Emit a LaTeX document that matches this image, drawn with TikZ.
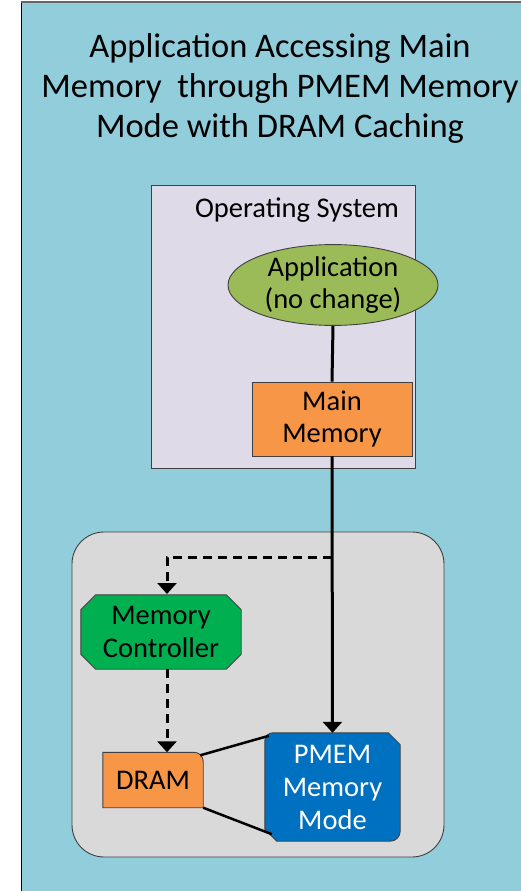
\documentclass[tikz,border=0pt]{standalone}
\usepackage{fontspec}
\setmainfont{Carlito}
\usetikzlibrary{arrows.meta,shapes.geometric}
\definecolor{bgblue}{HTML}{92CDDC}
\definecolor{oslav}{HTML}{DFDAE8}
\definecolor{hwgray}{HTML}{D9D9D9}
\definecolor{appgreen}{HTML}{9BBB59}
\definecolor{memorange}{HTML}{F79646}
\definecolor{mcgreen}{HTML}{00B050}
\definecolor{pmblue}{HTML}{0070C0}
\definecolor{edgegray}{HTML}{404040}
\tikzset{
  txt/.style={font=\fontsize{28.5}{32.5}\selectfont, align=center, inner sep=0pt},
  shapebox/.style={draw=edgegray, line width=0.9pt},
  conn/.style={line width=3pt, draw=black},
  tipa/.style={-{Triangle[width=19pt,length=11pt]}},
  dashline/.style={dash pattern=on 9pt off 6pt},
}
\begin{document}
\begin{tikzpicture}[x=1pt,y=-1pt]
\useasboundingbox (0,0) rectangle (520,891);
% background
\fill[white] (0,0) rectangle (520,891);
\fill[bgblue] (21,2) rectangle (530,900);
\draw[line width=1.5pt, black] (21.5,2) -- (21.5,900);
\draw[line width=2pt, gray!80!black] (21,2) -- (530,2);
% title
\node[txt, font=\fontsize{34.5}{40}\selectfont] (title) at (280,88)
  {Application Accessing Main\\Memory\ \ through PMEM Memory\\Mode with DRAM Caching};
% OS box
\draw[shapebox, fill=oslav] (151,185) rectangle (415,468);
\node[txt] (oslabel) at (297,210) {Operating System};
% application
\node[txt, ellipse, draw=edgegray, line width=0.9pt, fill=appgreen, minimum width=210pt, minimum height=74pt] (app) at (333,285) {Application\\(no change)};
% main memory
\node[txt, rectangle, draw=edgegray, line width=0.9pt, fill=memorange, minimum width=160pt, minimum height=74pt] (mm) at (332,419) {Main\\Memory};
% hardware box
\draw[shapebox, fill=hwgray, rounded corners=32pt] (72,532) rectangle (444,857);
% memory controller (octagon)
\node[txt, minimum width=160pt, minimum height=74pt] (mc) at (161,632) {};
\draw[shapebox, fill=mcgreen]
  ([xshift=15pt]mc.north west) -- ([xshift=-15pt]mc.north east) -- ([yshift=-15pt]mc.north east)
  -- ([yshift=15pt]mc.south east) -- ([xshift=-15pt]mc.south east) -- ([xshift=15pt]mc.south west)
  -- ([yshift=15pt]mc.south west) -- ([yshift=-15pt]mc.north west) -- cycle;
\node[txt] (mctext) at (mc.center) {Memory\\Controller};
% DRAM
\node[txt, minimum width=100pt, minimum height=55pt] (dram) at (153,780) {};
\draw[shapebox, fill=memorange]
  (dram.south west) -- (dram.north west) -- ([xshift=-9pt]dram.north east)
  arc[start angle=90, end angle=0, radius=9pt] -- (dram.south east) -- cycle;
\node[txt] (dramtext) at (dram.center) {DRAM};
% PMEM
\node[txt, minimum width=135pt, minimum height=108pt] (pmem) at (332.5,787) {};
\draw[shapebox, fill=pmblue]
  ([yshift=-8pt]pmem.north west) arc[start angle=180, end angle=90, radius=8pt]
  -- ([xshift=-12pt]pmem.north east) -- ([yshift=-12pt]pmem.north east)
  -- ([yshift=10pt]pmem.south east) arc[start angle=0, end angle=-90, radius=10pt]
  -- ([xshift=12pt]pmem.south west) -- ([yshift=12pt]pmem.south west) -- cycle;
\node[txt, text=white, font=\fontsize{28.5}{33}\selectfont] (pmemtext) at (pmem.center) {PMEM\\Memory\\Mode};
% connectors
\draw[conn] (app.south) -- (mm.north);
\coordinate (junc) at (mm.south |- 0,557);
\coordinate (mcin) at (167,594);
\draw[conn, tipa] (mm.south) -- (pmem.north);
\draw[conn, dashline, tipa] (junc) -| (mcin);
\coordinate (mcout) at (167,669);
\draw[conn, dashline, tipa] (mcout) -- (mcout |- dram.north);
\draw[line width=2.5pt] ([xshift=-3pt,yshift=-3pt]dram.north east) -- ([xshift=4pt,yshift=-3pt]pmem.north west);
\draw[line width=2.5pt] (dram.south east) -- ([xshift=7pt,yshift=7pt]pmem.south west);
\end{tikzpicture}
\end{document}
